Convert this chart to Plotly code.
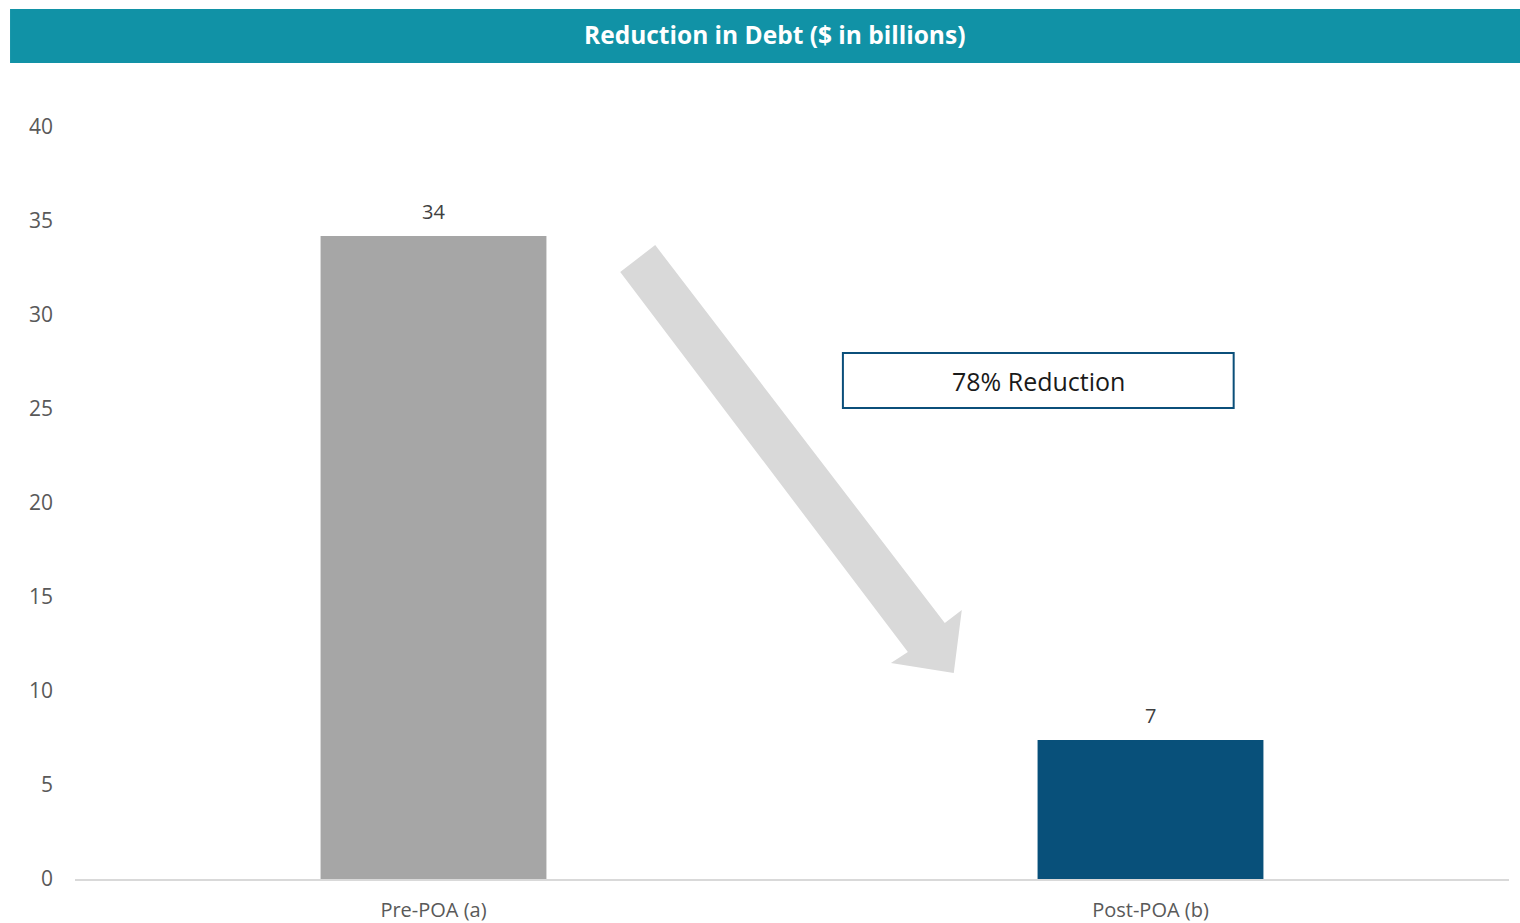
import plotly.graph_objects as go

categories = ["Pre-POA (a)", "Post-POA (b)"]
debt_values = [34.2, 7.4]
value_labels = ["34", "7"]
bar_colors = ["#A6A6A6", "#08507A"]
y_ticks = [0, 5, 10, 15, 20, 25, 30, 35, 40]
title_text = "Reduction in Debt ($ in billions)"
callout_text = "78% Reduction"

FONT = "Open Sans"

fig = go.Figure()
fig.add_trace(go.Bar(
    x=[0, 1], y=debt_values,
    marker=dict(color=bar_colors, line=dict(width=0)),
    width=0.315,
    hoverinfo="skip",
))

for i, (v, lab) in enumerate(zip(debt_values, value_labels)):
    fig.add_annotation(x=i, y=v, xref="x", yref="y", text=lab, showarrow=False,
                       yanchor="bottom", yshift=9,
                       font=dict(family=FONT, size=20, color="#404040"))

# Decorative arrow (data coordinates)
arrow = [(0.2604, 32.29), (0.3092, 33.72), (0.7131, 13.62), (0.7368, 14.31),
         (0.7256, 10.96), (0.6379, 11.49), (0.6616, 12.07)]
path = "M " + " L ".join(f"{x},{y}" for x, y in arrow) + " Z"
fig.add_shape(type="path", path=path, xref="x", yref="y",
              fillcolor="#D9D9D9", line=dict(width=0), layer="above")

# Callout box
fig.add_shape(type="rect", xref="x", yref="y", x0=0.571, x1=1.116, y0=25.05, y1=27.98,
              fillcolor="white", line=dict(color="#0B4F7A", width=2))
fig.add_annotation(x=(0.571 + 1.116) / 2, y=(25.05 + 27.98) / 2, xref="x", yref="y",
                   text=callout_text, showarrow=False, xanchor="center", yanchor="middle",
                   font=dict(family=FONT, size=25, color="#1a1a1a"))

# Title banner
fig.add_shape(type="rect", xref="paper", yref="paper",
              x0=-0.0453, x1=1.0077, y0=1.0851, y1=1.1569,
              fillcolor="#1192A6", line=dict(width=0))
fig.add_annotation(x=0.488, y=(1.0851 + 1.1569) / 2 + 0.002, xref="paper", yref="paper",
                   text="<b>" + title_text + "</b>", showarrow=False,
                   xanchor="center", yanchor="middle",
                   font=dict(family=FONT, size=24.5, color="white"))

fig.update_layout(
    width=1520, height=923,
    margin=dict(l=75, r=11, t=127, b=44),
    paper_bgcolor="white", plot_bgcolor="white",
    showlegend=False,
    font=dict(family=FONT, color="#595959"),
    xaxis=dict(
        range=[-0.5, 1.5], tickmode="array", tickvals=[0, 1], ticktext=categories,
        showgrid=False, zeroline=False, showline=True, linecolor="#D9D9D9", linewidth=2,
        ticks="", tickfont=dict(family=FONT, size=20, color="#595959"),
        ticklabelstandoff=12, automargin=False,
    ),
    yaxis=dict(
        range=[0, 40], tickvals=y_ticks, showgrid=False, zeroline=False, showline=False,
        ticks="", tickfont=dict(family=FONT, size=21, color="#595959"),
        ticklabelstandoff=21, automargin=False,
    ),
)

fig.write_html("out.html")
